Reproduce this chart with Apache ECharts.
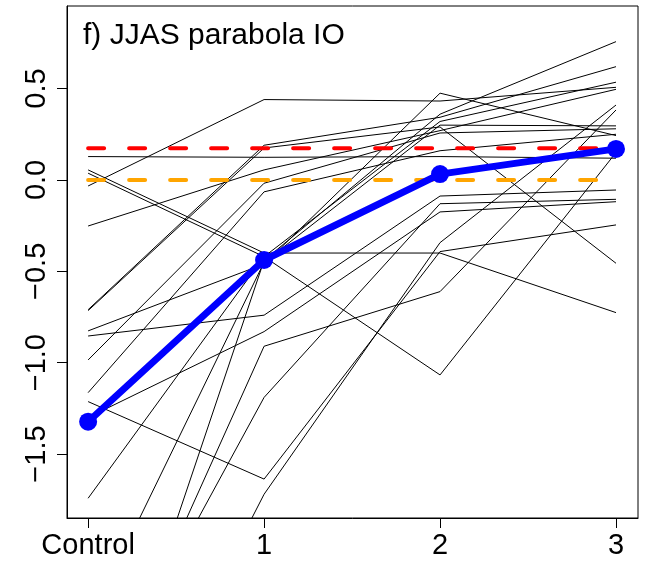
<!DOCTYPE html>
<html>
<head>
<meta charset="utf-8">
<script src="https://cdn.jsdelivr.net/npm/echarts@6/dist/echarts.min.js"></script>
<style>
  html, body { margin: 0; padding: 0; background: #fff; }
  #chart { width: 648px; height: 561px; }
</style>
</head>
<body>
<div id="chart"></div>
<script>
// ---- data ----
const categories = ['Control', '1', '2', '3'];
const xTickValues = [0, 1, 2, 3];
const yTickValues = [-1.5, -1.0, -0.5, 0.0, 0.5];
const titleText = 'f) JJAS parabola IO';

// ensemble members: values at Control, 1, 2, 3
const ens01 = [0.128, 0.124, 0.128, 0.119];
const ens02 = [-0.033, 0.44, 0.432, 0.507];
const ens03 = [-0.71, 0.19, 0.343, 0.62];
const ens04 = [-0.715, 0.175, 0.29, -0.456];
const ens05 = [-0.252, 0.055, 0.27, 0.496];
const ens06 = [-0.985, -0.018, 0.257, 0.28];
const ens07 = [-1.164, -0.065, 0.16, 0.25];
const ens08 = [0.055, -0.40, -0.40, -0.726];
const ens09 = [0.037, -0.42, -1.067, 0.15];
const ens10 = [-0.826, -0.46, 0.475, 0.243];
const ens11 = [-0.854, -0.74, -0.088, -0.055];
const ens12 = [-1.213, -1.637, -0.392, -0.246];
const ens13 = [-1.742, -0.42, 0.32, 0.535];
const ens14 = [-1.30, -0.83, -0.175, -0.119];
const ens15 = [-3.6, -1.72, -0.343, 0.41];
const ens16 = [-2.96, -1.19, -0.13, -0.106];
const ens17 = [-3.05, -0.91, -0.611, 0.383];
const ens18 = [-3.3, -0.44, 0.36, 0.757];
const ens19 = [-2.43, -0.45, 0.30, 0.296];
const members = [ens01, ens02, ens03, ens04, ens05, ens06, ens07, ens08, ens09, ens10,
                 ens11, ens12, ens13, ens14, ens15, ens16, ens17, ens18, ens19];

const meanValues = [-1.323, -0.438, 0.032, 0.17];
const redLevel = [0.173, 0.173];
const orangeLevel = [0.0, 0.0];
const levelX = [0, 3];

// ---- chart ----
const FONT = "'Liberation Sans', Arial, Helvetica, sans-serif";
const chart = echarts.init(document.getElementById('chart'), null, { renderer: 'canvas' });

function toPairs(xs, ys) { return ys.map((v, i) => [xs[i], v]); }

const series = [];
members.forEach((m, i) => {
  series.push({
    type: 'line', name: 'member' + (i + 1),
    data: toPairs(xTickValues, m),
    symbol: 'none', silent: true, clip: true,
    lineStyle: { color: '#000', width: 1 },
    z: 2
  });
});
series.push({
  type: 'line', name: 'red', data: toPairs(levelX, redLevel),
  symbol: 'none', silent: true,
  lineStyle: { color: '#FF0000', width: 4, type: [16, 25], cap: 'round' }, z: 3
});
series.push({
  type: 'line', name: 'orange', data: toPairs(levelX, orangeLevel),
  symbol: 'none', silent: true,
  lineStyle: { color: '#FFA500', width: 4, type: [16, 25], cap: 'round' }, z: 3
});
series.push({
  type: 'line', name: 'mean', data: toPairs(xTickValues, meanValues),
  symbol: 'circle', symbolSize: 18, silent: true,
  itemStyle: { color: '#0000FF' },
  lineStyle: { color: '#0000FF', width: 7 }, z: 4
});

chart.setOption({
  animation: false,
  backgroundColor: '#fff',
  title: {
    text: titleText, left: 78, top: 16,
    textStyle: { fontFamily: FONT, fontSize: 30, fontWeight: 'normal', color: '#000', lineHeight: 30 }
  },
  grid: {
    left: 67, right: 10, top: 6, bottom: 43,
    show: true, borderColor: '#000', borderWidth: 1, backgroundColor: 'transparent'
  },
  xAxis: {
    type: 'value', min: -0.12, max: 3.125,
    axisLine: { show: true, onZero: false, lineStyle: { color: '#000', width: 1 } },
    axisTick: { show: true, inside: false, length: 10, lineStyle: { color: '#000', width: 1 }, customValues: xTickValues },
    axisLabel: {
      customValues: xTickValues,
      formatter: v => categories[Math.round(v)],
      margin: 13, color: '#000', fontFamily: FONT, fontSize: 29
    },
    splitLine: { show: false }
  },
  yAxis: {
    type: 'value', min: -1.85, max: 0.952,
    axisLine: { show: true, onZero: false, lineStyle: { color: '#000', width: 1 } },
    axisTick: { show: true, inside: false, length: 10, lineStyle: { color: '#000', width: 1 }, customValues: yTickValues },
    axisLabel: {
      customValues: yTickValues,
      formatter: v => (v < 0 ? '\u2212' : '') + Math.abs(v).toFixed(1),
      rotate: 90, margin: 16, color: '#000', fontFamily: FONT, fontSize: 29
    },
    splitLine: { show: false }
  },
  series: series
});
</script>
</body>
</html>
